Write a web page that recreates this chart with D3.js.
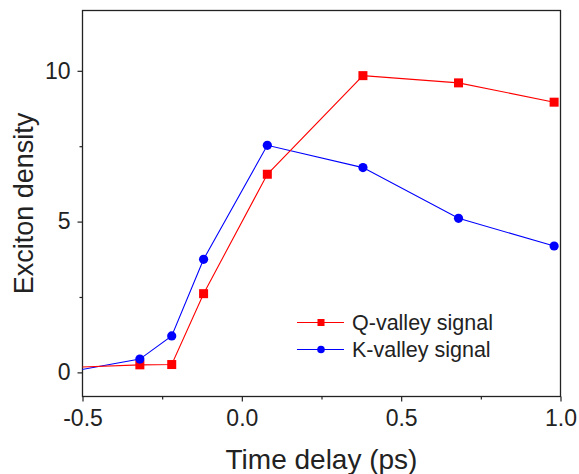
<!DOCTYPE html>
<html><head><meta charset="utf-8">
<script src="https://cdn.jsdelivr.net/npm/d3@7"></script>
<style>html,body{margin:0;padding:0;background:#fff;}svg{display:block;font-family:"Liberation Sans",Arial,sans-serif;}</style>
</head><body><svg id="c" width="579" height="474"></svg>
<script>
const timeDelay = [-0.62, -0.32, -0.22, -0.12, 0.08, 0.38, 0.68, 0.98];
const qValley = [0.13, 0.25, 0.26, 2.61, 6.57, 9.84, 9.60, 8.96];
const kValley = [-0.13, 0.44, 1.21, 3.75, 7.53, 6.79, 5.11, 4.19];
const seriesNames = ["Q-valley signal", "K-valley signal"];
const xTicks = [-0.5, 0.0, 0.5, 1.0];
const xTickLabels = ["-0.5", "0.0", "0.5", "1.0"];
const xMinor = [-0.25, 0.25, 0.75];
const yTicks = [0, 5, 10];
const yTickLabels = ["0", "5", "10"];
const yMinor = [2.5, 7.5];

const svg = d3.select("#c");
const L = 82.5, R = 560.5, T = 10.5, B = 396.5;
const x = d3.scaleLinear().domain([-0.5, 1.0]).range([L, R]);
const y = d3.scaleLinear().domain([-0.8, 12]).range([B, T]);

svg.append("clipPath").attr("id", "clip").append("rect")
  .attr("x", L).attr("y", T).attr("width", R - L).attr("height", B - T);

// axes
const xAxis = svg.append("g").attr("transform", `translate(0,${B})`)
  .call(d3.axisBottom(x).tickValues(xTicks).tickFormat((d, i) => xTickLabels[i]).tickSize(5).tickSizeOuter(0).tickPadding(8));
const xAxisMinor = svg.append("g").attr("transform", `translate(0,${B})`)
  .call(d3.axisBottom(x).tickValues(xMinor).tickFormat("").tickSize(3).tickSizeOuter(0));
const yAxis = svg.append("g").attr("transform", `translate(${L},0)`)
  .call(d3.axisLeft(y).tickValues(yTicks).tickFormat((d, i) => yTickLabels[i]).tickSize(5).tickSizeOuter(0).tickPadding(7));
const yAxisMinor = svg.append("g").attr("transform", `translate(${L},0)`)
  .call(d3.axisLeft(y).tickValues(yMinor).tickFormat("").tickSize(3).tickSizeOuter(0));
[xAxis, xAxisMinor, yAxis, yAxisMinor].forEach(g => {
  g.select(".domain").remove();
  g.selectAll("line").attr("stroke", "#222").attr("stroke-width", 1.2);
  g.selectAll("text").attr("fill", "#222").style("font-size", "23px").style("font-family", "'Liberation Sans',Arial,sans-serif");
});

// frame
svg.append("rect").attr("x", L).attr("y", T).attr("width", R - L).attr("height", B - T)
  .attr("fill", "none").attr("stroke", "#222").attr("stroke-width", 1.3);

const plot = svg.append("g").attr("clip-path", "url(#clip)");
const line = d3.line().x(d => x(d[0])).y(d => y(d[1]));
const qData = timeDelay.map((t, i) => [t, qValley[i]]);
const kData = timeDelay.map((t, i) => [t, kValley[i]]);

plot.append("path").datum(kData).attr("d", line).attr("fill", "none").attr("stroke", "#0000ff").attr("stroke-width", 1.1);
plot.append("path").datum(qData).attr("d", line).attr("fill", "none").attr("stroke", "#ff0000").attr("stroke-width", 1.1);

const sq = 9;
plot.selectAll(".q").data(qData).enter().append("rect")
  .attr("x", d => x(d[0]) - sq / 2).attr("y", d => y(d[1]) - sq / 2)
  .attr("width", sq).attr("height", sq).attr("fill", "#ff0000");
plot.selectAll(".k").data(kData).enter().append("circle")
  .attr("cx", d => x(d[0])).attr("cy", d => y(d[1])).attr("r", 4.6).attr("fill", "#0000ff");

// legend
const legend = svg.append("g");
const colors = ["#ff0000", "#0000ff"];
const ly = [322.5, 349.5];
seriesNames.forEach((name, i) => {
  legend.append("line").attr("x1", 297).attr("x2", 344).attr("y1", ly[i]).attr("y2", ly[i])
    .attr("stroke", colors[i]).attr("stroke-width", 1.1);
  if (i === 0) legend.append("rect").attr("x", 321 - 3.5).attr("y", ly[i] - 3.5).attr("width", 7).attr("height", 7).attr("fill", colors[i]);
  else legend.append("circle").attr("cx", 321).attr("cy", ly[i]).attr("r", 3.8).attr("fill", colors[i]);
  legend.append("text").attr("x", 352).attr("y", ly[i]).attr("dy", "0.35em")
    .style("font-size", "21.5px").attr("fill", "#222").text(name);
});

// axis titles
svg.append("text").attr("x", (L + R) / 2).attr("y", 469).attr("text-anchor", "middle")
  .style("font-size", "28px").attr("fill", "#222").text("Time delay (ps)");
svg.append("text").attr("transform", `translate(33,${(T + B) / 2}) rotate(-90)`).attr("text-anchor", "middle")
  .style("font-size", "27px").attr("fill", "#222").text("Exciton density");
</script></body></html>
